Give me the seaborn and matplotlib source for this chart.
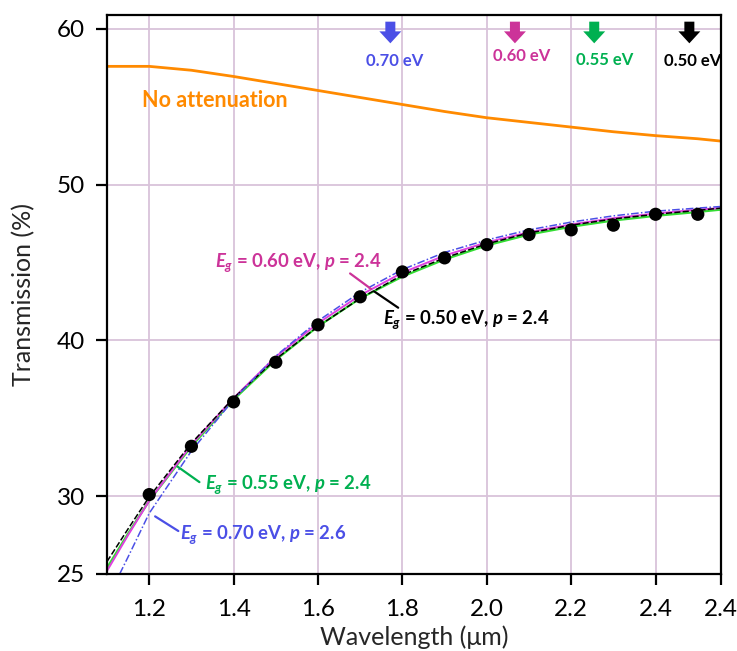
import numpy as np
import pandas as pd
import matplotlib
matplotlib.use("Agg")
import matplotlib.pyplot as plt
import seaborn as sns

# ---- data ----
meas_x = [1.2, 1.3, 1.4, 1.5, 1.6, 1.7, 1.8, 1.9, 2.0, 2.1, 2.2, 2.3, 2.4, 2.5]
meas_y = [30.1, 33.2, 36.05, 38.6, 41.0, 42.8, 44.4, 45.3, 46.15, 46.8, 47.1, 47.4, 48.1, 48.1]

noatt_x = [1.1, 1.15, 1.2, 1.3, 1.4, 1.5, 1.6, 1.7, 1.8, 1.9, 2.0, 2.1, 2.2, 2.3, 2.4, 2.5, 2.555]
noatt_y = [57.6, 57.6, 57.6, 57.35, 56.95, 56.5, 56.05, 55.6, 55.15, 54.7, 54.3, 54.0, 53.7, 53.4, 53.15, 52.95, 52.8]

fit_x = [1.1, 1.15, 1.2, 1.3, 1.4, 1.5, 1.6, 1.7, 1.8, 1.9, 2.0, 2.1, 2.2, 2.3, 2.4, 2.5, 2.555]
fit050_y = [25.8, 27.9, 29.95, 33.4, 36.3, 38.8, 40.9, 42.7, 44.2, 45.3, 46.2, 46.9, 47.4, 47.8, 48.1, 48.35, 48.5]
fit055_y = [25.4, 27.6, 29.7, 33.2, 36.2, 38.75, 40.9, 42.7, 44.1, 45.2, 46.1, 46.8, 47.3, 47.7, 48.0, 48.25, 48.4]
fit060_y = [25.2, 27.5, 29.7, 33.3, 36.3, 38.95, 41.1, 42.9, 44.35, 45.45, 46.3, 46.95, 47.45, 47.85, 48.15, 48.4, 48.5]
fit070_x = [1.13, 1.15, 1.2, 1.3, 1.4, 1.5, 1.6, 1.7, 1.8, 1.9, 2.0, 2.1, 2.2, 2.3, 2.4, 2.5, 2.555]
fit070_y = [25.0, 26.1, 28.9, 32.9, 36.2, 39.0, 41.25, 43.1, 44.55, 45.65, 46.45, 47.1, 47.6, 48.0, 48.3, 48.5, 48.6]

bandgaps = [0.70, 0.60, 0.55, 0.50]          # eV, arrows at 1.24/Eg (um)
gap_labels = ["0.70 eV", "0.60 eV", "0.55 eV", "0.50 eV"]

x_ticks = [1.2, 1.4, 1.6, 1.8, 2.0, 2.2, 2.4, 2.555]
x_ticklabels = ["1.2", "1.4", "1.6", "1.8", "2.0", "2.2", "2.4", "2.4"]
y_ticks = [25, 30, 40, 50, 60]

# ---- style ----
sns.set_style("white")
FONT = ["Lato", "DejaVu Sans"]
plt.rcParams["font.family"] = FONT
plt.rcParams["mathtext.fontset"] = "custom"
plt.rcParams["mathtext.it"] = "Lato:italic:bold"
plt.rcParams["mathtext.rm"] = "Lato:bold"
plt.rcParams["mathtext.bf"] = "Lato:bold"

C_ORANGE = "#FF8A00"
C_BLUE = "#4B4FE6"
C_MAG = "#CC3399"
C_GREEN = "#00B050"
C_GRID = "#D9C3DA"

fig = plt.figure(figsize=(7.37, 6.51), dpi=100)
ax = fig.add_axes([0.1452, 0.1183, 0.8331, 0.8587])

# grid
ax.set_axisbelow(True)
ax.grid(True, color=C_GRID, lw=1.3)

df_no = pd.DataFrame({"x": noatt_x, "y": noatt_y})
sns.lineplot(data=df_no, x="x", y="y", ax=ax, color=C_ORANGE, lw=2.0)

df_050 = pd.DataFrame({"x": fit_x, "y": fit050_y})
df_055 = pd.DataFrame({"x": fit_x, "y": fit055_y})
df_060 = pd.DataFrame({"x": fit_x, "y": fit060_y})
df_070 = pd.DataFrame({"x": fit070_x, "y": fit070_y})
sns.lineplot(data=df_055, x="x", y="y", ax=ax, color="#33DD33", lw=1.6)
sns.lineplot(data=df_060, x="x", y="y", ax=ax, color="#E040E0", lw=1.4)
sns.lineplot(data=df_050, x="x", y="y", ax=ax, color="black", lw=1.1, linestyle=(0, (4, 1.5)))
sns.lineplot(data=df_070, x="x", y="y", ax=ax, color=C_BLUE, lw=1.1, linestyle=(0, (5, 1.5, 1, 1.5)))

df_m = pd.DataFrame({"x": meas_x, "y": meas_y})
sns.scatterplot(data=df_m, x="x", y="y", ax=ax, color="black", s=90, edgecolor="none", zorder=5)

# arrows and band-gap labels
arrow_colors = [C_BLUE, C_MAG, C_GREEN, "black"]
label_y = [57.95, 58.25, 58.0, 57.95]
label_dx = [0.01, 0.015, 0.025, 0.008]
for eg, lab, c, ly, dx in zip(bandgaps, gap_labels, arrow_colors, label_y, label_dx):
    xa = 1.24 / eg
    ax.annotate("", xy=(xa, 59.08), xytext=(xa, 60.47),
                arrowprops=dict(arrowstyle="simple,head_width=1.58,head_length=0.86,tail_width=0.72",
                                color=c, lw=0, shrinkA=0, shrinkB=0, mutation_scale=10),
                annotation_clip=False)
    ax.text(xa + dx, ly, lab, color=c, fontsize=12, fontweight="bold",
            ha="center", va="center")

ax.text(1.183, 55.4, "No attenuation", color=C_ORANGE, fontsize=15.5, fontweight="bold",
        ha="left", va="center")

def fit_label(x, y, txt, c, x0, y0, x1, y1):
    ax.plot([x0, x1], [y0, y1], color=c, lw=1.6)
    ax.text(x, y, txt, color=c, fontsize=13.3, fontweight="bold", ha="left", va="center")

fit_label(1.357, 45.0, r"$E_g$ = 0.60 eV, $p$ = 2.4", C_MAG, 1.676, 44.3, 1.726, 43.3)
fit_label(1.755, 41.35, r"$E_g$ = 0.50 eV, $p$ = 2.4", "black", 1.733, 43.15, 1.79, 42.1)
fit_label(1.333, 30.77, r"$E_g$ = 0.55 eV, $p$ = 2.4", C_GREEN, 1.267, 31.9, 1.319, 30.9)
fit_label(1.274, 27.56, r"$E_g$ = 0.70 eV, $p$ = 2.6", C_BLUE, 1.214, 28.7, 1.269, 27.76)

# axes
ax.set_xlim(1.1, 2.555)
ax.set_ylim(25, 60.9)
ax.set_xticks(x_ticks)
ax.set_xticklabels(x_ticklabels)
ax.set_yticks(y_ticks)
ax.tick_params(axis="both", direction="out", length=8, width=1.6, labelsize=17.5,
               colors="black", bottom=True, left=True, pad=8)
ax.tick_params(axis="x", pad=10)
ax.set_xlabel("Wavelength (μm)", fontsize=18, labelpad=4)
ax.set_ylabel("Transmission (%)", fontsize=18, labelpad=15)
for s in ax.spines.values():
    s.set_color("black")
    s.set_linewidth(1.6)
    s.set_visible(True)

gl = ax.get_ygridlines()
gl[0].set_visible(False)
ax.get_xgridlines()[-1].set_visible(False)

fig.savefig("out.png", dpi=100)
